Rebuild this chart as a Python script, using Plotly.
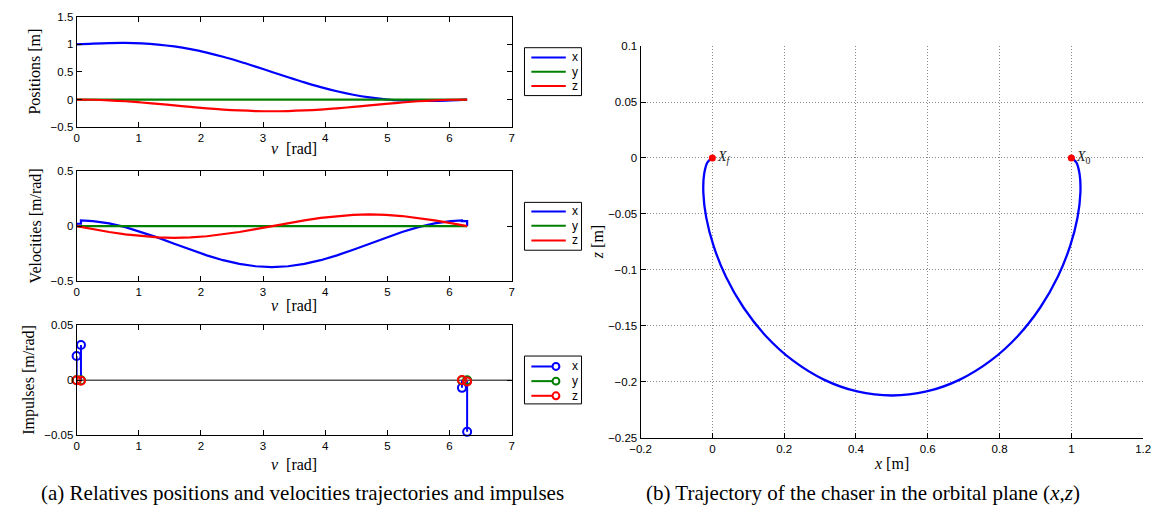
import plotly.graph_objects as go

W, H = 1163, 520

# ---------------- data ----------------
nu = [0.0, 0.2618, 0.5236, 0.7854, 1.0472, 1.3090, 1.5708, 1.8326, 2.0944,
      2.3562, 2.6180, 2.8798, 3.1416, 3.4034, 3.6652, 3.9270, 4.1888, 4.4506,
      4.7124, 4.9742, 5.2360, 5.4978, 5.7596, 6.0214, 6.2832]
pos_x = [1.0, 1.0133, 1.0228, 1.0251, 1.0171, 0.9966, 0.9622, 0.9133, 0.8504,
         0.7751, 0.6894, 0.5966, 0.5, 0.4034, 0.3106, 0.2249, 0.1496, 0.0867,
         0.0378, 0.0034, -0.0171, -0.0251, -0.0228, -0.0133, 0.0]
pos_y = [0.0] * 25
pos_z = [0.0, -0.0036, -0.0142, -0.0311, -0.0531, -0.0786, -0.1061, -0.1336,
         -0.1592, -0.1811, -0.1980, -0.2086, -0.2122, -0.2086, -0.1980, -0.1811,
         -0.1592, -0.1336, -0.1061, -0.0786, -0.0531, -0.0311, -0.0142, -0.0036, 0.0]

nu_vel = [0.0, 0.0, 0.07, 0.07, 0.2618, 0.5236, 0.7854, 1.0472, 1.3090, 1.5708,
          1.8326, 2.0944, 2.3562, 2.6180, 2.8798, 3.1416, 3.4034, 3.6652, 3.9270,
          4.1888, 4.4506, 4.7124, 4.9742, 5.2360, 5.4978, 5.7596, 6.0214,
          6.2, 6.2, 6.2832, 6.2832]
vel_x = [0.0, 0.022, 0.022, 0.0525, 0.0458, 0.0246, -0.0091, -0.0531, -0.1042,
         -0.1592, -0.2141, -0.2652, -0.3092, -0.3429, -0.3641, -0.3714, -0.3641,
         -0.3429, -0.3092, -0.2652, -0.2141, -0.1592, -0.1042, -0.0531, -0.0091,
         0.0246, 0.0458, 0.0523, 0.0453, 0.0460, 0.0]
vel_y = [0.0] * 31
vel_z = [0.0, 0.0, -0.0074, -0.0080, -0.0275, -0.0531, -0.0750, -0.0919, -0.1025,
         -0.1061, -0.1025, -0.0919, -0.0750, -0.0531, -0.0275, 0.0, 0.0275, 0.0531,
         0.0750, 0.0919, 0.1025, 0.1061, 0.1025, 0.0919, 0.0750, 0.0531, 0.0275,
         0.0088, 0.0088, 0.0, 0.0]

imp_nu = [0.0, 0.07, 6.2, 6.2832]
imp_x = [0.022, 0.032, -0.007, -0.047]
imp_y = [0.0, 0.0, 0.0, 0.0]
imp_z = [0.0, -0.0005, 0.0002, -0.0012]

series_names = ["x", "y", "z"]
x_ticks = [0, 1, 2, 3, 4, 5, 6, 7]
pos_ticks = [-0.5, 0, 0.5, 1, 1.5]
pos_ticktext = ["\u22120.5", "0", "0.5", "1", "1.5"]
vel_ticks = [-0.5, 0, 0.5]
vel_ticktext = ["\u22120.5", "0", "0.5"]
imp_ticks = [-0.05, 0, 0.05]
imp_ticktext = ["\u22120.05", "0", "0.05"]
orb_xticks = [-0.2, 0, 0.2, 0.4, 0.6, 0.8, 1, 1.2]
orb_xticktext = ["\u22120.2", "0", "0.2", "0.4", "0.6", "0.8", "1", "1.2"]
orb_zticks = [0.1, 0.05, 0, -0.05, -0.1, -0.15, -0.2, -0.25]
orb_zticktext = ["0.1", "0.05", "0", "\u22120.05", "\u22120.1", "\u22120.15", "\u22120.2", "\u22120.25"]

# ---------------- styling ----------------
BLUE, GREEN, RED = "#0000ff", "#008000", "#ff0000"
COLORS = [BLUE, GREEN, RED]
SANS = "Liberation Sans, Arial, sans-serif"
SERIF = "Liberation Serif, Times New Roman, serif"


def px(x):
    return x / W


def py(y):
    return 1 - y / H


fig = go.Figure()

# positions
for name, vals, c in zip(series_names, [pos_x, pos_y, pos_z], COLORS):
    fig.add_trace(go.Scatter(x=nu, y=vals, mode="lines", name=name,
                             line=dict(color=c, width=2.2, shape="spline"),
                             xaxis="x", yaxis="y", showlegend=False))
# velocities
for name, vals, c in zip(series_names, [vel_x, vel_y, vel_z], COLORS):
    fig.add_trace(go.Scatter(x=nu_vel, y=vals, mode="lines", name=name,
                             line=dict(color=c, width=2.2),
                             xaxis="x2", yaxis="y2", showlegend=False))
# impulses (stems)
for name, vals, c in zip(series_names, [imp_x, imp_y, imp_z], COLORS):
    sx, sy = [], []
    for n, v in zip(imp_nu, vals):
        sx += [n, n, None]
        sy += [0, v, None]
    fig.add_trace(go.Scatter(x=sx, y=sy, mode="lines", line=dict(color=c, width=2),
                             xaxis="x3", yaxis="y3", showlegend=False, hoverinfo="skip",
                             cliponaxis=False))
    fig.add_trace(go.Scatter(x=imp_nu, y=vals, mode="markers", name=name,
                             marker=dict(symbol="circle-open", size=8, color=c,
                                         line=dict(width=2, color=c)),
                             xaxis="x3", yaxis="y3", showlegend=False, cliponaxis=False))

# orbital plane trajectory
fig.add_trace(go.Scatter(x=pos_x, y=pos_z, mode="lines",
                         line=dict(color=BLUE, width=2.3, shape="spline"),
                         xaxis="x4", yaxis="y4", showlegend=False))
fig.add_trace(go.Scatter(x=[pos_x[0], pos_x[-1]], y=[pos_z[0], pos_z[-1]], mode="markers",
                         marker=dict(symbol="circle", size=7, color=RED),
                         xaxis="x4", yaxis="y4", showlegend=False, cliponaxis=False))

tickfont = dict(family=SANS, size=11.5, color="black")
box_axis = dict(showline=True, linecolor="black", linewidth=1, mirror="ticks",
                ticks="inside", ticklen=5, tickcolor="black", tickwidth=1,
                showgrid=False, zeroline=False, tickfont=tickfont)
grid_axis = dict(showline=True, linecolor="black", linewidth=1, mirror=False,
                 ticks="inside", ticklen=5, tickcolor="black", showgrid=True,
                 gridcolor="#8a8a8a", griddash="1px,2px", gridwidth=1,
                 zeroline=False, tickfont=tickfont)

xdom = [px(66.7), px(509)]
fig.update_layout(
    width=W, height=H, margin=dict(l=0, r=0, t=0, b=0), autosize=False,
    paper_bgcolor="white", plot_bgcolor="white", showlegend=False,
    xaxis=dict(domain=xdom, range=[0, 7], tickvals=x_ticks, anchor="y", **box_axis),
    yaxis=dict(domain=[py(124), py(11)], range=[-0.5, 1.5], tickvals=pos_ticks,
               ticktext=pos_ticktext, anchor="x", **box_axis),
    xaxis2=dict(domain=xdom, range=[0, 7], tickvals=x_ticks, anchor="y2", **box_axis),
    yaxis2=dict(domain=[py(281.7), py(169)], range=[-0.5, 0.5], tickvals=vel_ticks,
                ticktext=vel_ticktext, anchor="x2", **box_axis),
    xaxis3=dict(domain=xdom, range=[0, 7], tickvals=x_ticks, anchor="y3", **box_axis),
    yaxis3=dict(domain=[py(439.3), py(326.7)], range=[-0.05, 0.05], tickvals=imp_ticks,
                ticktext=imp_ticktext, anchor="x3", **box_axis),
    xaxis4=dict(domain=[px(640), px(1151)], range=[-0.2, 1.2], tickvals=orb_xticks,
                ticktext=orb_xticktext, anchor="y4", **grid_axis),
    yaxis4=dict(domain=[py(442), py(41)], range=[-0.25, 0.1], tickvals=orb_zticks,
                ticktext=orb_zticktext, anchor="x4", **grid_axis),
)

# baseline of the stem plot
fig.add_shape(type="line", xref="x3 domain", x0=0, x1=1, yref="y3", y0=0, y1=0,
              line=dict(color="black", width=1), layer="below")

ann = []
lab_font = dict(family=SERIF, size=16, color="black")
nu_label = "<i>\u03bd</i>\u00a0\u00a0[rad]"
xc = (66.7 + 509) / 2
for yy in [146, 307, 469]:
    ann.append(dict(text=nu_label, x=px(xc), y=py(yy), xref="paper", yref="paper",
                    xanchor="center", yanchor="middle", showarrow=False, font=lab_font))
for txt, xx, yy in [("Positions [m]", 24, 67.5), ("Velocities [m/rad]", 25, 225),
                    ("Impulses [m/rad]", 18, 383)]:
    ann.append(dict(text=txt, x=px(xx), y=py(yy), xref="paper", yref="paper",
                    xanchor="center", yanchor="middle", showarrow=False, textangle=-90,
                    font=lab_font))
ann.append(dict(text="<i>x</i> [m]", x=px((640 + 1151) / 2), y=py(468), xref="paper",
                yref="paper", xanchor="center", yanchor="middle", showarrow=False,
                font=lab_font))
ann.append(dict(text="<i>z</i> [m]", x=px(597), y=py(241.5), xref="paper", yref="paper",
                xanchor="center", yanchor="middle", showarrow=False, textangle=-90,
                font=lab_font))
# point labels
ann.append(dict(text="<i>X</i><sub><i>f</i></sub>", x=pos_x[-1], y=pos_z[-1], xref="x4",
                yref="y4", xanchor="left", yanchor="middle", xshift=3, showarrow=False,
                font=dict(family=SERIF, size=14, color="#222")))
ann.append(dict(text="<i>X</i><sub>0</sub>", x=pos_x[0], y=pos_z[0], xref="x4",
                yref="y4", xanchor="left", yanchor="middle", xshift=3, showarrow=False,
                font=dict(family=SERIF, size=14, color="#222")))
# captions
cap_font = dict(family=SERIF, size=21, color="black")
ann.append(dict(text="(a) Relatives positions and velocities trajectories and impulses",
                x=px(296), y=py(498), xref="paper", yref="paper", xanchor="center",
                yanchor="middle", showarrow=False, font=cap_font))
ann.append(dict(text="(b) Trajectory of the chaser in the orbital plane (<i>x</i>,<i>z</i>)",
                x=px(866), y=py(498), xref="paper", yref="paper", xanchor="center",
                yanchor="middle", showarrow=False, font=cap_font))


# custom MATLAB-like legends
def legend_box(top, entries_y, stem=False):
    fig.add_shape(type="rect", xref="paper", yref="paper", x0=px(522), x1=px(580),
                  y0=py(top + 49), y1=py(top), line=dict(color="black", width=1),
                  fillcolor="white")
    for name, c, ey in zip(series_names, COLORS, entries_y):
        x_end = 553 if stem else 564
        fig.add_shape(type="line", xref="paper", yref="paper", x0=px(529), x1=px(x_end),
                      y0=py(ey), y1=py(ey), line=dict(color=c, width=2))
        if stem:
            r = 3.5
            fig.add_shape(type="circle", xref="paper", yref="paper", x0=px(554 - r),
                          x1=px(554 + r), y0=py(ey + r), y1=py(ey - r),
                          line=dict(color=c, width=2), fillcolor="white")
        ann.append(dict(text=name, x=px(568), y=py(ey), xref="paper", yref="paper",
                        xanchor="left", yanchor="middle", showarrow=False,
                        font=dict(family=SANS, size=12, color="black")))


legend_box(42.7, [52.7, 67.3, 82.0])
legend_box(201.0, [210.3, 225.0, 240.0])
legend_box(358.3, [369.0, 384.0, 399.0], stem=True)

fig.update_layout(annotations=ann)
fig.write_html("out.html", config={"displayModeBar": False},
               post_script="document.body.style.margin='0';document.body.style.overflow='hidden';")
